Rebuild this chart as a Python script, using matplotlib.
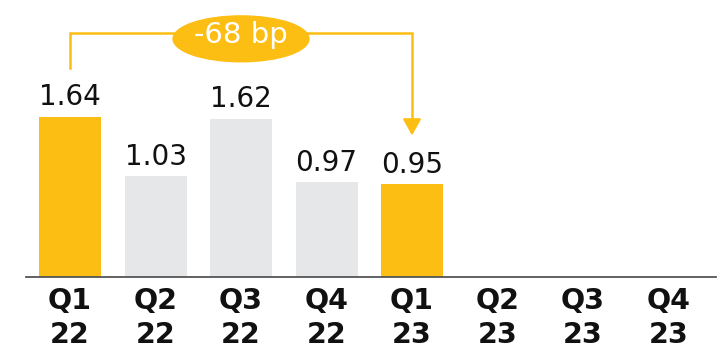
import matplotlib.pyplot as plt
from matplotlib.patches import Ellipse

# data
quarters = ["Q1\n22", "Q2\n22", "Q3\n22", "Q4\n22", "Q1\n23", "Q2\n23", "Q3\n23", "Q4\n23"]
values = [1.64, 1.03, 1.62, 0.97, 0.95]
highlight = [True, False, False, False, True]
change_label = "-68 bp"

gold = "#FDBE14"
grey = "#E6E7E8"

fig = plt.figure(figsize=(7.24, 3.55), dpi=100)
ax = fig.add_axes([0, 0, 1, 1])
ax.set_xlim(-0.819, 7.649)
ax.set_ylim(-0.80, 2.838)

x = list(range(len(values)))
colors = [gold if h else grey for h in highlight]
bars = ax.bar(x, values, width=0.725, color=colors, zorder=2)

# value labels
for xi, v in zip(x, values):
    ax.annotate(f"{v:.2f}", (xi, v), xytext=(0, 4), textcoords="offset points",
                ha="center", va="bottom", fontsize=20, color="#111111")

# baseline
ax.plot([-0.51, 7.55], [0, 0], color="#555555", lw=1.3, zorder=3)

# category labels
for i, q in enumerate(quarters):
    ax.text(i, -0.10, q, ha="center", va="top", fontsize=20.5, fontweight="bold",
            linespacing=1.3, color="#111111")

# bracket with arrow from first to last highlighted bar
y_top = 2.50
ax.plot([0, 0, 4, 4], [2.14, y_top, y_top, 1.58], color=gold, lw=1.8,
        solid_joinstyle="miter", zorder=3)
ax.annotate("", xy=(4, 1.45), xytext=(4, 1.60),
            arrowprops=dict(arrowstyle="-|>,head_length=0.5,head_width=0.28",
                            color=gold, lw=1.6, shrinkA=0, shrinkB=0,
                            mutation_scale=20))
ax.add_patch(Ellipse((2, 2.44), 1.59, 0.47, color=gold, zorder=4))
ax.text(2, 2.475, change_label, ha="center", va="center", fontsize=21,
        color="white", zorder=5)

ax.axis("off")
fig.savefig("out.png", dpi=100)
